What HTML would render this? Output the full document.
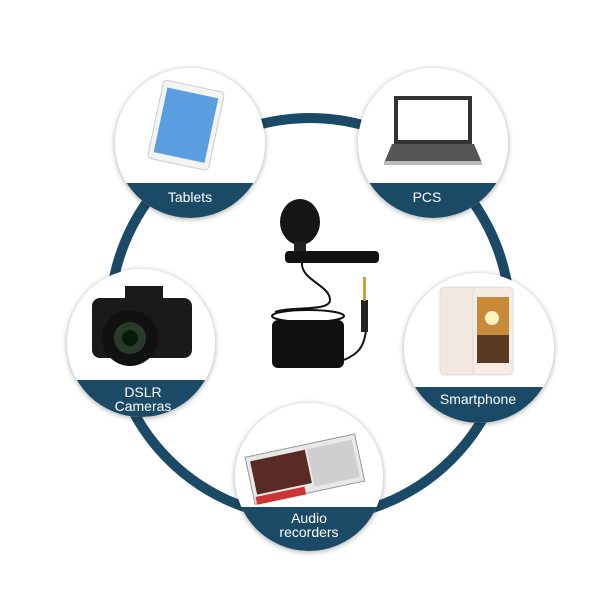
<!DOCTYPE html>
<html><head><meta charset="utf-8"><style>
html,body{margin:0;padding:0;background:#fff;}
svg{display:block;}
text{font-family:"Liberation Sans",Arial,sans-serif;fill:#fff;font-size:14px;text-anchor:middle;}
</style></head><body>
<svg width="600" height="599" viewBox="0 0 600 599" xmlns="http://www.w3.org/2000/svg">
<defs>
<filter id="sh" x="-20%" y="-20%" width="140%" height="140%"><feGaussianBlur in="SourceAlpha" stdDeviation="3"/><feOffset dx="0" dy="1"/><feComponentTransfer><feFuncA type="linear" slope="0.35"/></feComponentTransfer><feMerge><feMergeNode/><feMergeNode in="SourceGraphic"/></feMerge></filter>
<clipPath id="c1"><circle cx="190" cy="143" r="75"/></clipPath>
<clipPath id="c2"><circle cx="433" cy="143" r="75"/></clipPath>
<clipPath id="c3"><circle cx="141" cy="343" r="74"/></clipPath>
<clipPath id="c4"><circle cx="479" cy="348" r="75"/></clipPath>
<clipPath id="c5"><circle cx="309" cy="477" r="74"/></clipPath>
</defs>
<circle cx="310" cy="318" r="200" fill="none" stroke="#1b4a66" stroke-width="10"/>

<!-- Tablets -->
<circle cx="190" cy="143" r="75" fill="#fff" filter="url(#sh)"/>
<rect x="115" y="183" width="150" height="40" fill="#1b4a66" clip-path="url(#c1)"/>
<g transform="rotate(12 185 125)"><rect x="155" y="85" width="62" height="80" rx="4" fill="#f4f4f4" stroke="#ccc"/><rect x="160" y="92" width="52" height="66" fill="#5b9ee0"/></g>
<text x="190" y="202">Tablets</text>

<!-- PCS -->
<circle cx="433" cy="143" r="75" fill="#fff" filter="url(#sh)"/>
<rect x="358" y="183" width="150" height="40" fill="#1b4a66" clip-path="url(#c2)"/>
<rect x="396" y="98" width="74" height="44" fill="#fff" stroke="#333" stroke-width="4"/>
<polygon points="392,144 474,144 482,163 384,163" fill="#555"/>
<rect x="384" y="161" width="98" height="4" fill="#bbb"/>
<text x="427" y="202">PCS</text>

<!-- DSLR -->
<circle cx="141" cy="343" r="74" fill="#fff" filter="url(#sh)"/>
<rect x="67" y="380" width="150" height="45" fill="#1b4a66" clip-path="url(#c3)"/>
<rect x="92" y="298" width="100" height="60" rx="8" fill="#1a1a1a"/>
<rect x="125" y="286" width="38" height="16" fill="#1a1a1a"/>
<circle cx="130" cy="338" r="28" fill="#111"/><circle cx="130" cy="338" r="16" fill="#2a3a2a"/><circle cx="130" cy="338" r="8" fill="#0a1a0a"/>
<text x="143" y="397">DSLR</text><text x="143" y="411">Cameras</text>

<!-- Smartphone -->
<circle cx="479" cy="348" r="75" fill="#fff" filter="url(#sh)"/>
<rect x="404" y="387" width="150" height="40" fill="#1b4a66" clip-path="url(#c4)"/>
<rect x="440" y="287" width="38" height="88" rx="5" fill="#f3e8e0" stroke="#ddd"/>
<rect x="473" y="287" width="40" height="88" rx="5" fill="#f6ece4" stroke="#ddd"/>
<rect x="477" y="297" width="32" height="66" fill="#c88a3a"/><rect x="477" y="335" width="32" height="28" fill="#5a3a20"/><circle cx="492" cy="318" r="7" fill="#fff3c0"/>
<text x="478" y="404">Smartphone</text>

<!-- Audio -->
<circle cx="309" cy="477" r="74" fill="#fff" filter="url(#sh)"/>
<rect x="234" y="507" width="150" height="45" fill="#1b4a66" clip-path="url(#c5)"/>
<g transform="rotate(-12 305 465)"><rect x="248" y="445" width="112" height="48" fill="#e8e8e8" stroke="#999"/><rect x="252" y="450" width="56" height="34" fill="#5a2a25"/><rect x="310" y="450" width="46" height="38" fill="#cfcfcf"/><rect x="250" y="486" width="50" height="8" fill="#c33"/></g>
<text x="309" y="523">Audio</text><text x="309" y="537">recorders</text>

<!-- Microphone -->
<ellipse cx="300" cy="222" rx="20" ry="23" fill="#151515"/>
<rect x="294" y="242" width="12" height="12" fill="#222"/>
<rect x="285" y="251" width="94" height="12" rx="4" fill="#111"/>
<path d="M302 262 C300 280 330 285 330 300 C330 312 290 306 275 312" fill="none" stroke="#111" stroke-width="2"/>
<ellipse cx="308" cy="316" rx="36" ry="6" fill="none" stroke="#111" stroke-width="2"/>
<rect x="272" y="320" width="72" height="48" rx="6" fill="#111"/>
<path d="M344 360 C355 355 364 350 366 330" fill="none" stroke="#111" stroke-width="2"/>
<rect x="361" y="300" width="7" height="32" fill="#222"/>
<rect x="363" y="277" width="3" height="24" fill="#c9a040"/>
</svg>
</body></html>
